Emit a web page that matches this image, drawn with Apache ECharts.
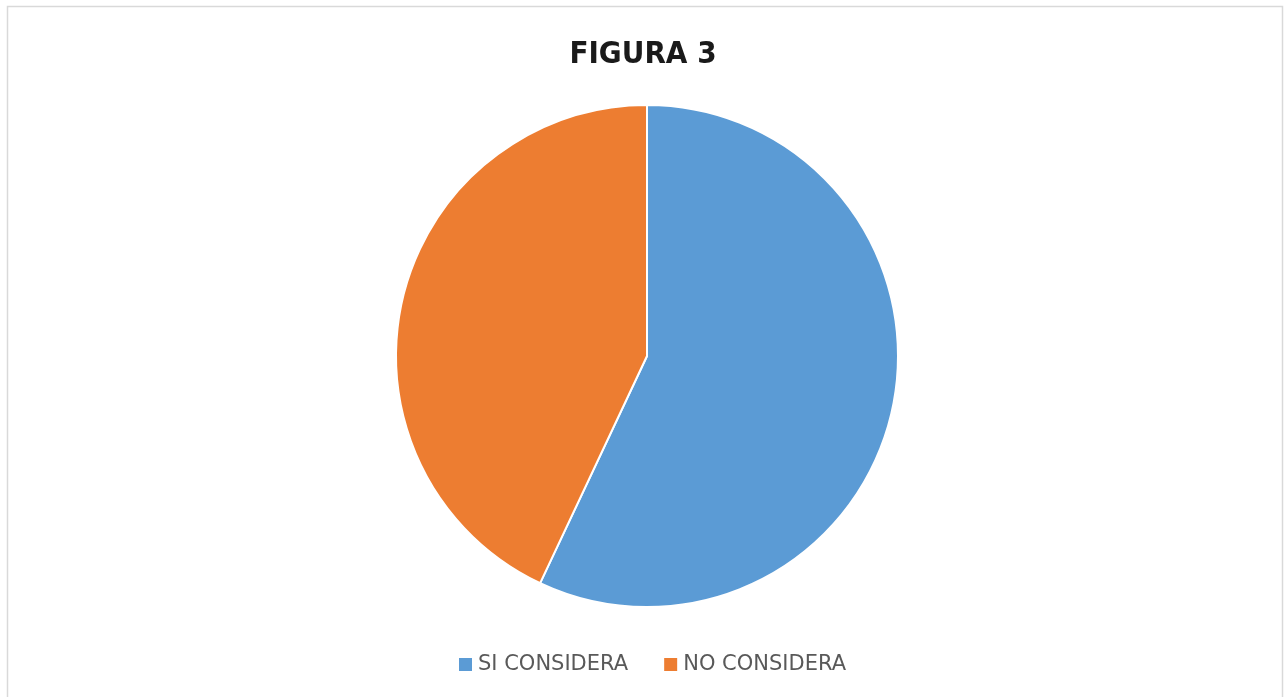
<!DOCTYPE html>
<html>
<head>
<meta charset="utf-8">
<script src="https://cdn.jsdelivr.net/npm/echarts@6/dist/echarts.min.js"></script>
<style>
  html, body { margin: 0; padding: 0; background: #fff; }
</style>
</head>
<body>
<div id="main" style="width: 1286px; height: 697px;"></div>
<script>
var categories = ['SI CONSIDERA', 'NO CONSIDERA'];
var values = [57, 43];
var colors = ['#5B9BD5', '#ED7D31'];

var myChart = echarts.init(document.getElementById('main'));
myChart.setOption({
    animation: false,
    graphic: [{
        type: 'rect',
        shape: { x: 7.5, y: 6.5, width: 1275, height: 700 },
        style: { fill: 'none', stroke: '#d9d9d9', lineWidth: 1.5 },
        silent: true
    }],
    title: {
        text: 'FIGURA 3',
        left: 'center',
        top: 34,
        textStyle: { fontFamily: '"Liberation Sans Narrow", "DejaVu Sans Condensed", sans-serif', fontSize: 31, fontWeight: 'bold', color: '#1a1a1a' }
    },
    legend: {
        top: 649,
        left: 452,
        itemWidth: 15,
        itemHeight: 15,
        itemGap: 34,
        icon: 'rect',
        textStyle: { fontFamily: '"DejaVu Sans"', fontSize: 21, color: '#595959' },
        data: categories
    },
    series: [{
        type: 'pie',
        center: [647, 356],
        radius: 251,
        startAngle: 90,
        clockwise: true,
        label: { show: false },
        labelLine: { show: false },
        itemStyle: { borderColor: '#fff', borderWidth: 2 },
        data: categories.map(function (c, i) {
            return { name: c, value: values[i], itemStyle: { color: colors[i] } };
        })
    }]
});
</script>
</body>
</html>
